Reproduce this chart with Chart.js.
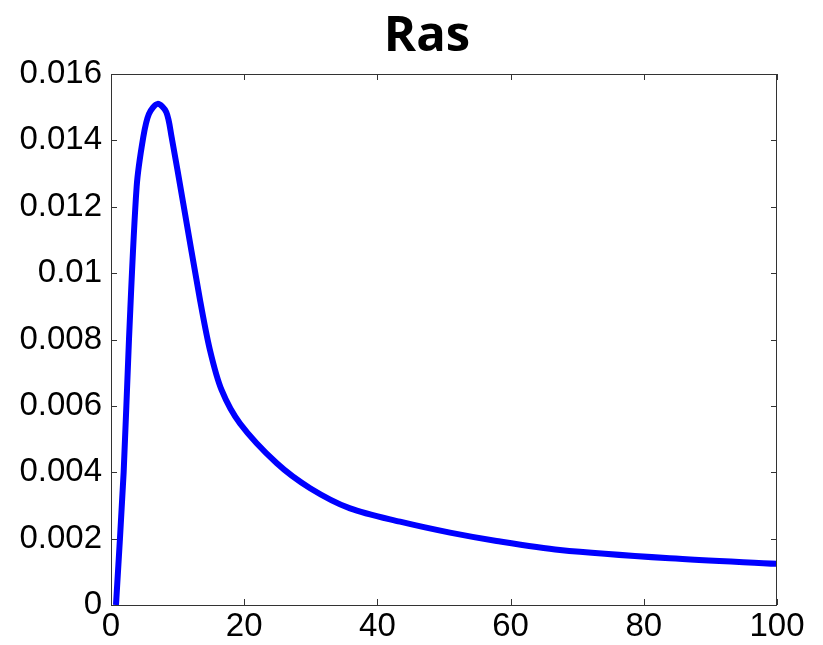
<!DOCTYPE html>
<html>
<head>
<meta charset="utf-8">
<script src="https://cdn.jsdelivr.net/npm/chart.js@4.4.1/dist/chart.umd.min.js"></script>
<style>
  body { margin: 0; background: #fff; }
</style>
</head>
<body>
<canvas id="rasChart" width="823" height="645"></canvas>
<script>
// curve (time, level)
const xValues = [0.75, 1.9, 2.7, 3.85, 4.85, 5.7, 7.0, 8.3, 9.1, 10.85, 13.36, 14.86, 16.6, 19.37, 24.9, 29.9, 35.9, 43.4, 50.9, 57.9, 67.4, 83.9, 100];
const yValues = [0, 0.004, 0.008, 0.0126, 0.0141, 0.0148, 0.0151, 0.01485, 0.0141, 0.0121, 0.0092, 0.00768, 0.00648, 0.00547, 0.00427, 0.00352, 0.00291, 0.00251, 0.00218, 0.00193, 0.00166, 0.00141, 0.00124];
const xTicks = [0, 20, 40, 60, 80, 100];
const yTickLabels = ['0', '0.002', '0.004', '0.006', '0.008', '0.01', '0.012', '0.014', '0.016'];
const titleText = 'Ras';

const points = xValues.map((x, i) => ({ x: x, y: yValues[i] }));

// matlab style box with inward ticks on every side, plus the title
const boxTicks = {
    id: 'boxTicks',
    afterDraw(chart) {
        const { ctx, chartArea: a, scales } = chart;
        const len = 6;
        ctx.save();
        ctx.strokeStyle = '#333';
        ctx.lineWidth = 1;
        ctx.strokeRect(a.left + 0.5, a.top + 0.5, a.right - a.left - 1, a.bottom - a.top);
        ctx.beginPath();
        xTicks.forEach(v => {
            const px = Math.round(scales.x.getPixelForValue(v)) + 0.5;
            ctx.moveTo(px, a.bottom); ctx.lineTo(px, a.bottom - len);
            ctx.moveTo(px, a.top); ctx.lineTo(px, a.top + len);
        });
        yTickLabels.forEach((t, i) => {
            const py = Math.round(scales.y.getPixelForValue(i * 0.002)) + 0.5;
            ctx.moveTo(a.left, py); ctx.lineTo(a.left + len, py);
            ctx.moveTo(a.right, py); ctx.lineTo(a.right - len, py);
        });
        ctx.stroke();

        ctx.fillStyle = '#000';
        ctx.font = 'bold 49px "Open Sans"';
        ctx.textAlign = 'center';
        ctx.textBaseline = 'alphabetic';
        ctx.fillText(titleText, (a.left + a.right) / 2 - 17, a.top - 23);
        ctx.restore();
    }
};

new Chart(document.getElementById('rasChart').getContext('2d'), {
    type: 'line',
    data: {
        datasets: [{
            data: points,
            borderColor: '#0000ff',
            borderWidth: 6,
            pointRadius: 0,
            fill: false,
            tension: 0.3
        }]
    },
    options: {
        responsive: false,
        animation: false,
        layout: { padding: { left: 19, right: 46, top: 74, bottom: 0 } },
        plugins: {
            legend: { display: false },
            tooltip: { enabled: false },
            title: { display: false }
        },
        scales: {
            x: {
                type: 'linear',
                min: 0,
                max: 100,
                afterFit: (s) => { s.height = 40; },
                afterBuildTicks: (s) => { s.ticks = xTicks.map(v => ({ value: v })); },
                grid: { display: false, drawTicks: false },
                border: { display: false },
                ticks: {
                    padding: 2,
                    color: '#000',
                    font: { family: 'Liberation Sans', size: 33 }
                }
            },
            y: {
                min: 0,
                max: 0.016,
                afterFit: (s) => { s.width = 92; },
                afterBuildTicks: (s) => { s.ticks = yTickLabels.map((t, i) => ({ value: i * 0.002 })); },
                grid: { display: false, drawTicks: false },
                border: { display: false },
                ticks: {
                    padding: 9,
                    color: '#000',
                    font: { family: 'Liberation Sans', size: 33 },
                    callback: (v, i) => yTickLabels[i]
                }
            }
        }
    },
    plugins: [boxTicks]
});
</script>
</body>
</html>
